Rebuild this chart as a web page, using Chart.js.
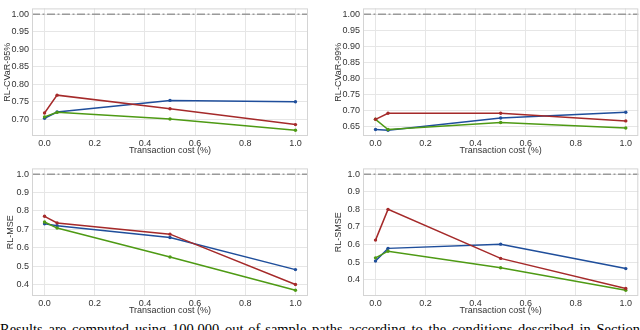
<!DOCTYPE html>
<html><head><meta charset="utf-8">
<script src="https://cdn.jsdelivr.net/npm/chart.js@4.4.0/dist/chart.umd.min.js"></script>
<style>
html,body{margin:0;padding:0;background:#fff;width:640px;height:330px;overflow:hidden;}
canvas{position:absolute;display:block;}
#cap{position:absolute;left:0;top:322.4px;width:640px;font-family:'Liberation Serif','DejaVu Serif',serif;font-size:14.5px;line-height:14.5px;text-align:justify;text-align-last:justify;color:#000;}
</style></head><body>
<canvas id="c1" width="320" height="160" style="left:0;top:0"></canvas>
<canvas id="c2" width="320" height="160" style="left:320px;top:0"></canvas>
<canvas id="c3" width="320" height="160" style="left:0;top:160px"></canvas>
<canvas id="c4" width="320" height="160" style="left:320px;top:160px"></canvas>
<div id="cap">Results are computed using 100,000 out-of-sample paths according to the conditions described in Section</div>
<script>
// ---- data ----
const costs = [0, 0.05, 0.5, 1.0];
const xTicks = [0, 0.2, 0.4, 0.6, 0.8, 1.0];
const cvar95Red   = [0.718, 0.769, 0.730, 0.685];
const cvar95Blue  = [0.703, 0.721, 0.754, 0.750];
const cvar95Green = [0.707, 0.720, 0.701, 0.669];
const cvar99Red   = [0.672, 0.691, 0.691, 0.667];
const cvar99Blue  = [0.640, 0.638, 0.676, 0.694];
const cvar99Green = [0.672, 0.640, 0.662, 0.645];
const mseRed   = [0.771, 0.735, 0.674, 0.400];
const mseBlue  = [0.730, 0.720, 0.656, 0.481];
const mseGreen = [0.740, 0.707, 0.550, 0.369];
const smseRed   = [0.625, 0.800, 0.521, 0.350];
const smseBlue  = [0.506, 0.578, 0.602, 0.463];
const smseGreen = [0.524, 0.562, 0.468, 0.340];
const yTicksCvar = [0.65, 0.70, 0.75, 0.80, 0.85, 0.90, 0.95, 1.00];
const yTicksMse = [0.4, 0.5, 0.6, 0.7, 0.8, 0.9, 1.0];
const baselineValue = 1.0;

const RED = '#a52a2a', BLUE = '#1f4e9b', GREEN = '#4e9a14';
const TXT = '#333333', GRID = '#e6e6e6', FRAME = '#d4d4d4';
const FONT = {family: "'Liberation Sans', Arial, sans-serif", size: 9};

const framePlugin = {
  id: 'frame',
  beforeDatasetsDraw(chart) {
    const {ctx, chartArea: a, scales} = chart;
    ctx.save();
    const yp = scales.y.getPixelForValue(baselineValue);
    ctx.strokeStyle = '#9a9a9a';
    ctx.lineWidth = 1.5;
    ctx.setLineDash([8, 2.5, 2, 2.5]);
    ctx.beginPath(); ctx.moveTo(a.left, yp); ctx.lineTo(a.right, yp); ctx.stroke();
    ctx.setLineDash([]);
    ctx.strokeStyle = FRAME; ctx.lineWidth = 1;
    ctx.strokeRect(a.left + 0.5, a.top + 0.5, a.right - a.left - 1, a.bottom - a.top - 1);
    ctx.restore();
  }
};

function ds(vals, color) {
  return {
    data: costs.map((x, i) => ({x: x, y: vals[i]})),
    borderColor: color, backgroundColor: color,
    borderWidth: 1.5, pointRadius: 1.7, pointBorderWidth: 0, pointHoverRadius: 0, tension: 0
  };
}

function limits(series) {
  const all = [].concat(...series, [baselineValue]);
  const lo = Math.min(...all), hi = Math.max(...all);
  const pad = 0.05 * (hi - lo);
  return [lo - pad, hi + pad];
}

function makeChart(id, series, yTicks, dec, ylabel, cfg) {
  const [ymin, ymax] = limits(series);
  new Chart(document.getElementById(id), {
    type: 'line',
    data: {datasets: [ds(series[0], RED), ds(series[2], GREEN), ds(series[1], BLUE)]},
    options: {
      responsive: false, animation: false, events: [],
      layout: {padding: {top: cfg.top, right: cfg.right, left: 0, bottom: 0}},
      plugins: {legend: {display: false}, tooltip: {enabled: false}},
      scales: {
        x: {
          type: 'linear', min: -0.05, max: 1.05,
          afterBuildTicks: s => { s.ticks = xTicks.map(v => ({value: v})); },
          afterFit: s => { s.height = 24; },
          ticks: {padding: 2, font: FONT, color: TXT, autoSkip: false, maxRotation: 0,
                  callback: v => Number(v).toFixed(1)},
          grid: {color: GRID, lineWidth: 1, drawTicks: false},
          border: {display: false},
          title: {display: true, text: 'Transaction cost (%)', font: FONT, color: TXT,
                  padding: {top: 0, bottom: 3.6}}
        },
        y: {
          type: 'linear', min: ymin, max: ymax,
          afterBuildTicks: s => { s.ticks = yTicks.filter(v => v >= ymin && v <= ymax).map(v => ({value: v})); },
          afterFit: s => { s.width = cfg.left; },
          ticks: {padding: 3, font: FONT, color: TXT, autoSkip: false,
                  callback: v => Number(v).toFixed(dec)},
          grid: {color: GRID, lineWidth: 1, drawTicks: false},
          border: {display: false},
          title: {display: true, text: ylabel, font: FONT, color: TXT,
                  padding: {top: cfg.tpad, bottom: 0}}
        }
      }
    },
    plugins: [framePlugin]
  });
}

makeChart('c1', [cvar95Red, cvar95Blue, cvar95Green], yTicksCvar, 2, 'RL-CVaR-95%', {top: 1, right: 12, left: 32, tpad: 2});
makeChart('c2', [cvar99Red, cvar99Blue, cvar99Green], yTicksCvar, 2, 'RL-CVaR-99%', {top: 1, right: 1, left: 43, tpad: 13.6});
makeChart('c3', [mseRed, mseBlue, mseGreen], yTicksMse, 1, 'RL-MSE', {top: 2, right: 12, left: 32, tpad: 5.6});
makeChart('c4', [smseRed, smseBlue, smseGreen], yTicksMse, 1, 'RL-SMSE', {top: 2, right: 1, left: 43, tpad: 13.6});
</script>
</body></html>
